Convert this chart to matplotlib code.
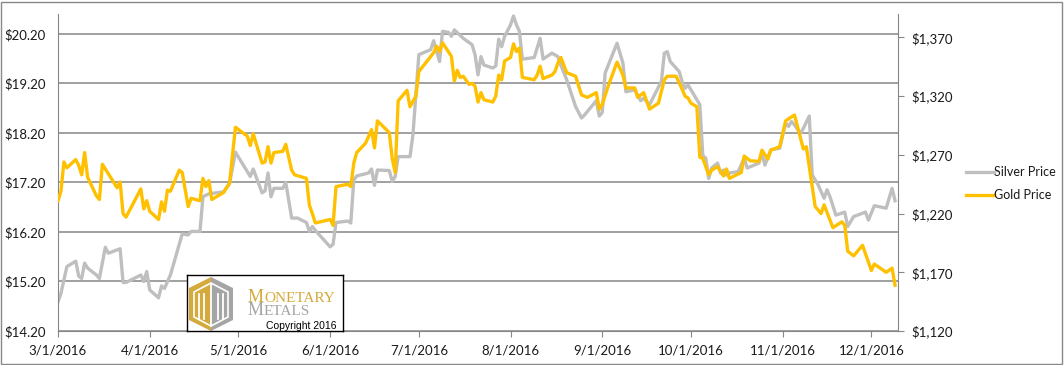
import numpy as np
import pandas as pd
import matplotlib
matplotlib.use('Agg')
import matplotlib.pyplot as plt
import matplotlib.dates as mdates
from matplotlib.ticker import FuncFormatter
from matplotlib.patches import Polygon, Rectangle

plt.rcParams['font.family'] = ['Lato', 'DejaVu Sans']

# silver price (left axis)
silver_dates = ['3/1', '3/2', '3/4', '3/7', '3/8', '3/9', '3/10', '3/11', '3/14', '3/15',
                '3/17', '3/18', '3/22', '3/23', '3/24', '3/29', '3/30', '3/31', '4/1', '4/4',
                '4/5', '4/6', '4/8', '4/12', '4/14', '4/15', '4/18', '4/19', '4/21', '4/26',
                '4/28', '4/30', '5/4', '5/5', '5/6', '5/9', '5/10', '5/11', '5/12', '5/13',
                '5/16', '5/17', '5/19', '5/21', '5/24', '5/25', '5/26', '5/27', '6/1', '6/2',
                '6/3', '6/7', '6/8', '6/9', '6/10', '6/14', '6/15', '6/16', '6/17', '6/21',
                '6/22', '6/23', '6/24', '6/28', '6/29', '7/1', '7/5', '7/6', '7/8', '7/9',
                '7/11', '7/12', '7/13', '7/16', '7/19', '7/20', '7/21', '7/22', '7/23', '7/26',
                '7/27', '7/28', '7/29', '7/30', '8/1', '8/2', '8/3', '8/4', '8/5', '8/9',
                '8/11', '8/12', '8/15', '8/17', '8/18', '8/20', '8/23', '8/25', '8/26', '8/30',
                '8/31', '9/1', '9/2', '9/6', '9/8', '9/9', '9/12', '9/14', '9/15', '9/17',
                '9/21', '9/22', '9/23', '9/24', '9/27', '9/28', '9/29', '9/30', '10/1', '10/4',
                '10/5', '10/6', '10/7', '10/8', '10/10', '10/11', '10/12', '10/13', '10/14', '10/17',
                '10/19', '10/20', '10/24', '10/25', '10/26', '10/28', '10/31', '11/2', '11/3', '11/4',
                '11/5', '11/7', '11/8', '11/10', '11/11', '11/13', '11/15', '11/16', '11/17', '11/19',
                '11/22', '11/23', '11/25', '11/29', '11/30', '12/2', '12/6', '12/8', '12/9']
silver_price = [14.79, 14.96, 15.50, 15.61, 15.31, 15.26, 15.57, 15.47, 15.33, 15.26,
                15.89, 15.77, 15.86, 15.18, 15.18, 15.33, 15.20, 15.40, 15.03, 14.87,
                15.11, 15.06, 15.33, 16.16, 16.14, 16.21, 16.21, 16.91, 16.97, 17.01,
                17.18, 17.81, 17.42, 17.32, 17.47, 16.99, 17.03, 17.39, 16.91, 17.08,
                17.08, 17.20, 16.48, 16.48, 16.39, 16.21, 16.31, 16.23, 15.90, 15.95,
                16.39, 16.42, 16.38, 17.25, 17.33, 17.39, 17.47, 17.14, 17.45, 17.44,
                17.22, 17.32, 17.72, 17.72, 18.16, 19.78, 19.88, 20.06, 19.64, 20.25,
                20.23, 20.15, 20.28, 20.11, 19.98, 19.78, 19.37, 19.74, 19.57, 19.51,
                19.55, 20.09, 19.94, 20.15, 20.38, 20.56, 20.38, 20.25, 19.69, 19.72,
                20.11, 19.69, 19.81, 19.74, 19.57, 19.27, 18.73, 18.50, 18.56, 18.85,
                18.54, 18.61, 19.41, 20.01, 19.61, 19.03, 19.07, 18.85, 18.90, 18.77,
                19.24, 19.81, 19.84, 19.64, 19.44, 19.24, 19.10, 19.17, 19.07, 18.77,
                17.74, 17.69, 17.28, 17.49, 17.59, 17.39, 17.45, 17.35, 17.39, 17.42,
                17.69, 17.49, 17.59, 17.79, 17.55, 17.86, 17.89, 18.40, 18.33, 18.43,
                18.36, 18.19, 18.29, 18.54, 17.35, 17.15, 16.88, 17.05, 16.91, 16.54,
                16.60, 16.31, 16.51, 16.60, 16.44, 16.73, 16.68, 17.08, 16.83]

# gold price (right axis)
gold_dates = ['3/1', '3/2', '3/3', '3/4', '3/7', '3/8', '3/9', '3/10', '3/11', '3/14',
              '3/15', '3/16', '3/21', '3/22', '3/23', '3/24', '3/29', '3/30', '3/31', '4/1',
              '4/4', '4/5', '4/6', '4/7', '4/8', '4/11', '4/12', '4/14', '4/15', '4/18',
              '4/19', '4/20', '4/21', '4/22', '4/26', '4/28', '4/30', '5/4', '5/5', '5/6',
              '5/9', '5/10', '5/11', '5/12', '5/13', '5/16', '5/17', '5/19', '5/20', '5/24',
              '5/25', '5/26', '5/27', '6/1', '6/2', '6/3', '6/7', '6/8', '6/9', '6/10',
              '6/13', '6/15', '6/16', '6/17', '6/21', '6/22', '6/23', '6/24', '6/27', '6/28',
              '6/30', '7/1', '7/6', '7/7', '7/8', '7/9', '7/12', '7/13', '7/14', '7/15',
              '7/16', '7/18', '7/19', '7/20', '7/21', '7/22', '7/23', '7/26', '7/27', '7/28',
              '7/29', '7/30', '8/1', '8/2', '8/3', '8/4', '8/5', '8/9', '8/10', '8/11',
              '8/12', '8/15', '8/16', '8/17', '8/18', '8/20', '8/23', '8/25', '8/27', '8/30',
              '8/31', '9/1', '9/3', '9/6', '9/8', '9/9', '9/12', '9/13', '9/15', '9/17',
              '9/20', '9/22', '9/23', '9/26', '9/28', '9/29', '9/30', '10/1', '10/3', '10/4',
              '10/5', '10/7', '10/8', '10/10', '10/12', '10/13', '10/14', '10/18', '10/19', '10/21',
              '10/24', '10/25', '10/27', '10/28', '10/31', '11/2', '11/5', '11/8', '11/9', '11/12',
              '11/14', '11/15', '11/18', '11/21', '11/22', '11/23', '11/25', '11/28', '12/1', '12/2',
              '12/6', '12/8', '12/9']
gold_price = [1231, 1239, 1264, 1259, 1266, 1261, 1253, 1272, 1251, 1235,
              1232, 1262, 1242, 1247, 1220, 1217, 1241, 1224, 1231, 1222,
              1215, 1230, 1222, 1240, 1239, 1257, 1255, 1226, 1233, 1231,
              1250, 1243, 1248, 1232, 1238, 1246, 1293.5, 1286, 1278, 1288,
              1263, 1264, 1277, 1263, 1272, 1273, 1279, 1257, 1253, 1250,
              1227, 1220, 1212, 1215, 1210, 1243, 1245, 1243, 1263, 1272,
              1280, 1291.5, 1276, 1299, 1289, 1267, 1255, 1316, 1325, 1311,
              1320, 1341, 1357, 1362.6, 1358, 1365.5, 1354, 1333, 1342, 1336,
              1337, 1330, 1331, 1328.5, 1315, 1323, 1317, 1315, 1320, 1338,
              1334, 1350, 1353, 1364.6, 1358, 1361, 1336, 1334, 1338, 1345.5,
              1335, 1338, 1341, 1348, 1353, 1340, 1337, 1321, 1319, 1323,
              1309, 1313, 1328.5, 1349, 1338, 1327, 1327, 1319, 1323, 1309,
              1314, 1334, 1337, 1337, 1326, 1320, 1318.5, 1314, 1311, 1268,
              1267, 1253, 1257, 1260, 1252, 1258, 1250, 1255, 1269, 1265,
              1264.5, 1274, 1266.5, 1274, 1277, 1299, 1304, 1275, 1277, 1226,
              1220, 1227.5, 1208, 1213, 1210, 1188, 1184, 1193, 1171.5, 1177,
              1170, 1173.5, 1159]

left_ticks = [14.2, 15.2, 16.2, 17.2, 18.2, 19.2, 20.2]
right_ticks = [1120, 1170, 1220, 1270, 1320, 1370]


def to_dates(lst):
    return pd.to_datetime(['2016/' + s for s in lst], format='%Y/%m/%d')


W, H = 1064, 365
fig = plt.figure(figsize=(W / 100, H / 100), dpi=100)
ax = fig.add_axes([58 / W, 34 / H, 840 / W, 317 / H])
ax2 = ax.twinx()

grey = '#868686'
txt = '#1a1a1a'

ln1, = ax.plot(to_dates(silver_dates), silver_price, color='#BFBFBF', lw=2.4,
               solid_joinstyle='round', label='Silver Price')
ln2, = ax2.plot(to_dates(gold_dates), gold_price, color='#FFC000', lw=2.4,
                solid_joinstyle='round', label='Gold Price')

ax.set_xlim(pd.Timestamp('2016-03-01'), pd.Timestamp('2016-12-10'))
ax.set_xticks(pd.date_range('2016-03-01', '2016-12-01', freq='MS'))


def fmt_date(v, p):
    d = mdates.num2date(v)
    return f"{d.month}/{d.day}/{d.year}"


ax.xaxis.set_major_formatter(FuncFormatter(fmt_date))

ax.set_ylim(14.2, 20.6)
ax.set_yticks(left_ticks)
ax.yaxis.set_major_formatter(FuncFormatter(lambda v, p: f"${v:.2f}"))
ax2.set_ylim(1120, 1390)
ax2.set_yticks(right_ticks)
ax2.yaxis.set_major_formatter(FuncFormatter(lambda v, p: f"${v:,.0f}"))

ax.yaxis.grid(True, color=grey, lw=1.1)
ax.set_axisbelow(True)

for a in (ax, ax2):
    a.spines['top'].set_visible(False)
ax.spines['right'].set_visible(False)
ax2.spines['left'].set_visible(False)
ax2.spines['bottom'].set_visible(False)
ax.spines['left'].set_color(grey)
ax.spines['bottom'].set_color(grey)
ax2.spines['right'].set_color(grey)

ax.tick_params(axis='y', length=0, pad=9, labelsize=9.5, labelcolor=txt)
ax.tick_params(axis='x', length=4, color=grey, pad=6, labelsize=9.5, labelcolor=txt)
ax2.tick_params(axis='y', length=4, color=grey, pad=6, labelsize=9.5, labelcolor=txt)

fig.legend([ln1, ln2], ['Silver Price', 'Gold Price'], loc='center left',
           bbox_to_anchor=(955 / W, 0.497), frameon=False, fontsize=9,
           handlelength=2.2, handletextpad=0.0, labelspacing=0.9,
           labelcolor=txt)

# logo box
lax = fig.add_axes([187 / W, 34 / H, 156 / W, 56 / H], zorder=10)
lax.set_xlim(0, 156)
lax.set_ylim(56, 0)
lax.set_xticks([])
lax.set_yticks([])
lax.set_facecolor('white')
for s in lax.spines.values():
    s.set_color('black')
    s.set_linewidth(1)

gold_c = '#D4AA3C'
grey_c = '#A5A5A5'
lax.add_patch(Polygon([(24, 2), (2, 13), (2, 45), (24, 56)], closed=True, fc=gold_c, ec='none'))
lax.add_patch(Polygon([(24, 2), (46, 13), (46, 45), (24, 56)], closed=True, fc=grey_c, ec='none'))
lax.add_patch(Polygon([(24, 8), (7, 17), (7, 42), (24, 51), (41, 42), (41, 17)],
                      closed=True, fc='none', ec='white', lw=1.2))
for xv in (12, 17, 31, 36):
    lax.plot([xv, xv], [19, 44], color='white', lw=1.3)
lax.plot([24, 24], [9, 51], color='white', lw=1.3)

m1 = lax.text(61, 27, 'M', family='Liberation Serif', fontsize=13, color=gold_c, va='baseline')
lax.annotate('ONETARY', xy=(1, 0.08), xycoords=m1, family='Liberation Serif', fontsize=11,
             color=gold_c, va='bottom', ha='left')
m2 = lax.text(61, 40, 'M', family='Liberation Serif', fontsize=13, color=grey_c, va='baseline')
lax.annotate('ETALS', xy=(1, 0.08), xycoords=m2, family='Liberation Serif', fontsize=11,
             color=grey_c, va='bottom', ha='left')
lax.text(150, 54, 'Copyright 2016', family='Liberation Sans', fontsize=7.5,
         color='black', ha='right', va='baseline')

fig.patches.append(Rectangle((1 / W, 1 / H), (W - 3) / W, (H - 3) / H, transform=fig.transFigure,
                             fill=False, ec='#898989', lw=1))

fig.savefig('out.png', dpi=100)
